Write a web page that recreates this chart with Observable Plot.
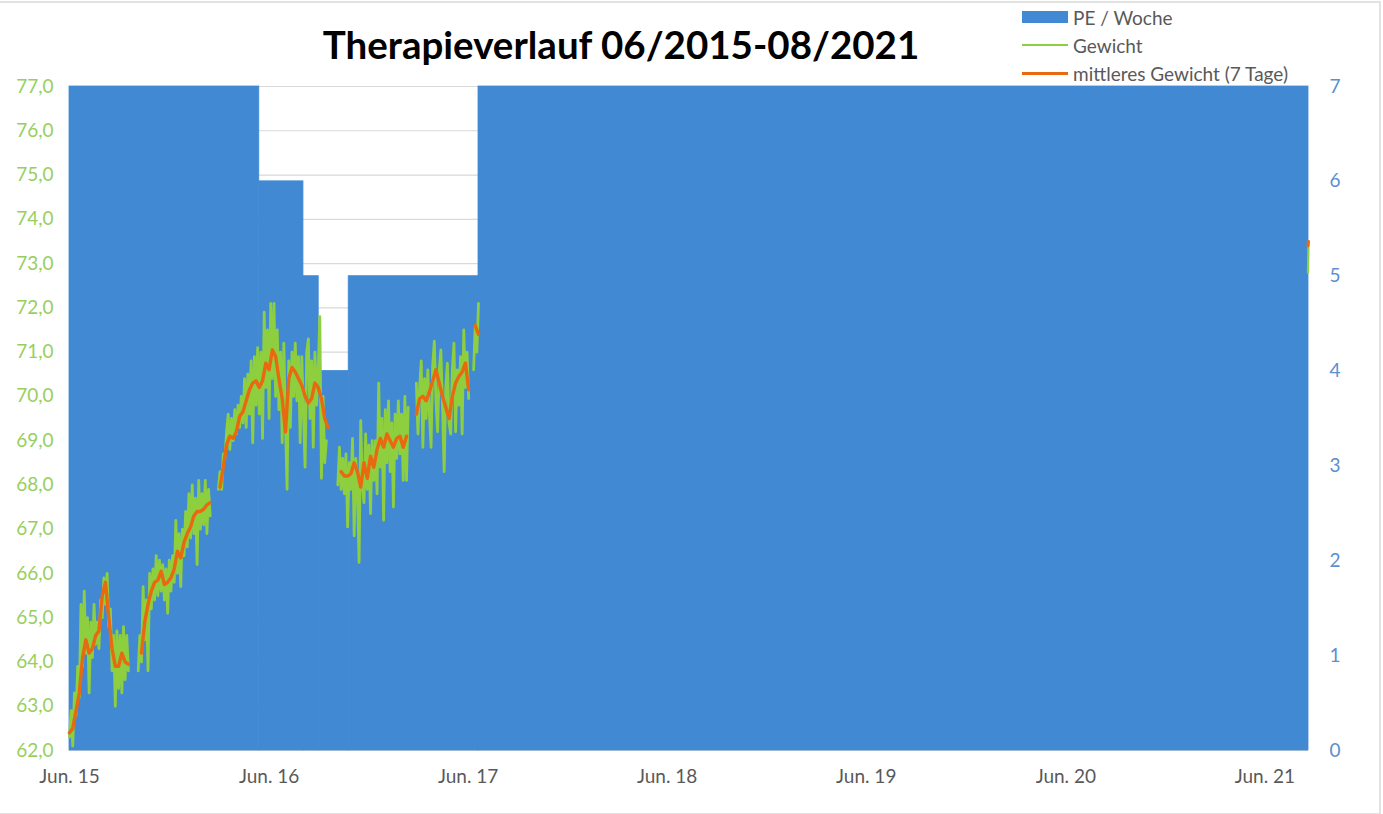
<!DOCTYPE html>
<html><head><meta charset="utf-8">
<script src="https://cdn.jsdelivr.net/npm/d3@7"></script>
<script src="https://cdn.jsdelivr.net/npm/@observablehq/plot@0.6"></script>
<style>
body{margin:0;background:#fff;font-family:Lato,"Open Sans",sans-serif;}
#wrap{position:relative;width:1383px;height:814px;overflow:hidden;background:#fff;}
#frame{position:absolute;left:-2px;top:1px;width:1381px;height:810px;border-top:2px solid #e2e2e2;border-right:2px solid #e2e2e2;border-bottom:1px solid #e2e2e2;pointer-events:none;}
#title{position:absolute;left:0;width:1242px;top:19px;text-align:center;font-weight:700;font-size:38.5px;line-height:50px;color:#000;}
.leg{position:absolute;left:1022px;height:24px;display:flex;align-items:center;font-size:19px;color:#595959;}
.sw{width:46px;margin-right:5px;}
#chart{position:absolute;left:0;top:66px;}
</style></head>
<body>
<div id="wrap">
  <div id="title">Therapieverlauf 06/2015-08/2021</div>
  <div class="leg" style="top:5px"><div class="sw" style="height:12px;background:#4189d3"></div>PE / Woche</div>
  <div class="leg" style="top:33px"><div class="sw" style="height:2.5px;background:#8dcf3f"></div>Gewicht</div>
  <div class="leg" style="top:61px"><div class="sw" style="height:3px;background:#e8690f"></div>mittleres Gewicht (7 Tage)</div>
  <div id="chart"></div>
  <div id="frame"></div>
</div>
<script>
// ---- Daten ----
const zeitraum = ["2015-06-01", "2021-08-20"];

// PE / Woche (Abschnitte gleicher Wochenzahl)
const peVon  = ["2015-06-01","2016-05-14","2016-08-03","2016-08-31","2016-10-25","2017-06-20"];
const peBis  = ["2016-05-14","2016-08-03","2016-08-31","2016-10-25","2017-06-20","2021-08-20"];
const peWert = [7, 6, 5, 4, 5, 7];

// Gewicht (kg), ab gewichtStart alle 3 Tage, null = keine Messung
const gewichtStart = "2015-06-01";
const gewichtSchritt = 3;
const gewicht = [
  62.3,62.9,62.1,63.3,62.8,63.9,63.2,65.3,63.9,65.6,64.2,65.0,63.3,64.9,64.1,65.3,64.4,64.9,64.3,65.4,
  65.0,65.9,65.3,66.0,64.8,65.2,63.8,64.6,63.0,64.7,63.4,64.6,63.3,64.8,63.6,64.6,63.8,
  null,null,null,null,null,
  63.8,64.6,64.0,65.7,64.5,65.4,63.8,66.0,65.2,66.1,65.4,66.4,65.5,66.3,65.6,66.2,65.4,66.1,65.1,66.3,
  65.6,66.4,65.8,67.2,66.0,66.9,65.7,67.0,66.4,67.4,66.6,67.8,66.8,68.0,66.9,67.7,66.2,68.1,67.0,67.8,
  67.1,68.1,66.9,67.9,67.3,
  null,null,null,null,
  67.9,68.3,67.9,68.7,68.6,69.2,69.6,68.8,69.5,69.0,69.7,69.15,69.8,69.3,70.0,69.4,70.4,69.3,70.5,69.6,
  70.8,68.95,70.9,69.8,71.1,69.6,71.0,69.05,71.9,70.2,71.5,69.5,72.1,70.4,72.1,70.0,71.5,69.7,71.0,68.95,
  71.2,69.4,67.9,70.8,69.3,71.0,70.0,71.2,69.9,70.9,68.95,70.9,69.6,68.4,71.0,71.3,69.5,70.8,68.85,71.0,
  69.8,70.6,71.8,68.15,70.0,68.5,69.0,
  null,null,null,null,null,null,
  68.0,68.85,67.9,68.6,67.8,68.7,67.05,68.5,67.9,69.05,66.85,68.6,67.9,66.25,69.45,68.0,67.6,69.15,67.9,68.9,
  67.35,69.0,68.1,69.0,67.8,70.3,68.4,69.5,67.2,69.7,68.5,69.9,68.3,69.4,67.5,69.6,68.6,69.9,68.7,69.6,
  68.1,70.0,68.1,69.75,
  null,null,null,null,
  70.3,69.15,70.2,70.8,68.85,70.4,69.5,70.6,69.6,68.85,70.7,71.25,69.9,69.2,70.6,71.05,69.8,68.3,70.2,70.75,
  69.4,69.15,70.6,71.2,69.2,70.6,69.8,70.9,69.15,71.5,70.2,71.0,69.95,
  null,null,
  70.6,71.6,71.0,72.1
];

// mittleres Gewicht (7 Tage), ab gewichtStart alle 6 Tage
const mittelSchritt = 6;
const mittel = [
  62.4,62.5,62.9,63.3,64.1,64.5,64.2,64.3,64.6,64.7,65.5,65.8,65.0,64.3,63.9,63.9,64.2,64.0,63.95,
  null,null,null,
  64.2,64.9,65.3,65.6,65.8,65.85,66.05,65.75,65.8,65.9,66.1,66.5,66.35,66.7,66.9,67.05,67.3,67.4,67.4,67.45,67.55,67.6,
  null,null,
  67.95,68.4,68.9,69.1,69.05,69.2,69.55,69.65,69.9,70.15,70.3,70.35,70.2,70.35,70.75,70.6,71.05,70.9,70.4,69.95,
  69.2,70.4,70.65,70.55,70.4,70.25,70.0,69.85,69.95,70.3,70.2,69.95,69.5,69.3,
  null,null,null,
  68.3,68.2,68.2,68.25,68.5,68.3,67.95,68.5,68.15,68.65,68.4,68.8,69.05,68.85,69.15,69.0,68.85,69.05,69.1,68.85,69.1,
  null,null,
  69.6,69.95,70.0,69.9,70.1,70.35,70.6,70.3,70.0,69.75,69.5,70.0,70.3,70.45,70.55,70.75,70.15,
  null,
  71.6,71.4
];

// letzte Messwerte am Ende des Zeitraums
const endeDaten   = ["2021-08-19","2021-08-20"];
const endeGewicht = [72.8, 73.5];
const endeMittel  = [73.4, 73.5];

// Achsen
const gewichtTicks = [62,63,64,65,66,67,68,69,70,71,72,73,74,75,76,77];
const peTicks = [0,1,2,3,4,5,6,7];
const xTickDaten = ["2015-06-01","2016-06-01","2017-06-01","2018-06-01","2019-06-01","2020-06-01","2021-06-01"];
const xTickTexte = ["Jun. 15","Jun. 16","Jun. 17","Jun. 18","Jun. 19","Jun. 20","Jun. 21"];

// ---- Aufbau ----
const blau = "#4189d3", gruen = "#8dcf3f", orange = "#e8690f";
const yMin = 62, yMax = 77, peMax = 7;
const peZuY = v => yMin + v * (yMax - yMin) / peMax;
const start = new Date(gewichtStart);

const balken = peWert.map((v, i) => ({von: new Date(peVon[i]), bis: new Date(peBis[i]), y: peZuY(v)}));
const gew = gewicht.map((v, i) => ({d: d3.utcDay.offset(start, i * gewichtSchritt), v}));
const mit = mittel.map((v, i) => ({d: d3.utcDay.offset(start, i * mittelSchritt), v}));
const endeG = endeDaten.map((d, i) => ({d: new Date(d), v: endeGewicht[i]}));
const endeM = endeDaten.map((d, i) => ({d: new Date(d), v: endeMittel[i]}));
const xTicks = xTickDaten.map(d => new Date(d));

const chart = Plot.plot({
  width: 1383, height: 748,
  marginLeft: 69, marginRight: 75, marginTop: 20, marginBottom: 64,
  style: {fontFamily: "Lato, 'Open Sans', sans-serif", fontSize: "19px", background: "transparent", overflow: "visible"},
  x: {type: "utc", domain: zeitraum.map(d => new Date(d))},
  y: {domain: [yMin, yMax]},
  marks: [
    Plot.ruleY(gewichtTicks, {stroke: "#d9d9d9", strokeWidth: 1.2}),
    Plot.rectY(balken, {x1: "von", x2: "bis", y1: yMin, y2: "y", fill: blau, stroke: blau, strokeWidth: 0.8}),
    Plot.line(gew, {x: "d", y: "v", stroke: gruen, strokeWidth: 2.8, strokeLinejoin: "round"}),
    Plot.line(endeG, {x: "d", y: "v", stroke: gruen, strokeWidth: 2.3}),
    Plot.line(mit, {x: "d", y: "v", stroke: orange, strokeWidth: 3.4, strokeLinejoin: "round", curve: "linear"}),
    Plot.line(endeM, {x: "d", y: "v", stroke: orange, strokeWidth: 3}),
    Plot.axisY(gewichtTicks, {anchor: "left", tickSize: 0, tickPadding: 16, label: null,
      tickFormat: d => d.toFixed(1).replace(".", ","), fill: "#97cf5e", fontSize: 19}),
    Plot.axisY(peTicks.map(peZuY), {anchor: "right", tickSize: 0, tickPadding: 21, label: null,
      tickFormat: d => String(Math.round((d - yMin) * peMax / (yMax - yMin))), fill: "#5b8fd0", fontSize: 19}),
    Plot.axisX(xTicks, {anchor: "bottom", tickSize: 0, tickPadding: 19, label: null,
      tickFormat: d => xTickTexte[xTicks.findIndex(t => +t === +d)], fill: "#595959", fontSize: 19})
  ]
});
document.getElementById("chart").appendChild(chart);
</script>
</body></html>
